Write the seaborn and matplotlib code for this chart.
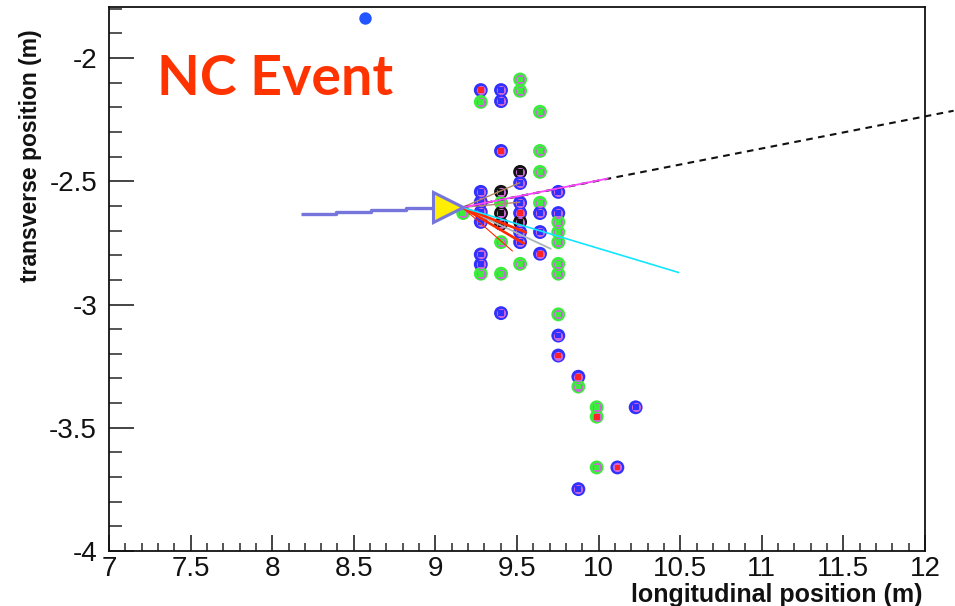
import matplotlib
matplotlib.use("Agg")
import matplotlib.pyplot as plt
from matplotlib.ticker import FixedLocator, FixedFormatter, MultipleLocator
from matplotlib.transforms import ScaledTranslation
import pandas as pd
import seaborn as sns

# ---------------------------------------------------------------------------
# Detector hits: longitudinal / transverse position (m), view ring colour
# and hit-class centre colour
# ---------------------------------------------------------------------------
hit_x = [
    9.278, 9.278, 9.278, 9.278, 9.278, 9.278, 9.278, 9.278, 9.278,
    9.402, 9.402, 9.402, 9.402, 9.402, 9.402, 9.402, 9.402, 9.402, 9.402,
    9.519, 9.519, 9.519, 9.519, 9.519, 9.519, 9.519, 9.519, 9.519, 9.519,
    9.641, 9.641, 9.641, 9.641, 9.641, 9.641, 9.641,
    9.753, 9.753, 9.753, 9.753, 9.753, 9.753, 9.753, 9.753, 9.753, 9.753,
    9.876, 9.876, 9.876,
    9.988, 9.988, 9.988,
    10.115, 10.227, 9.170,
]
hit_y = [
    -2.130, -2.178, -2.543, -2.584, -2.625, -2.665, -2.797, -2.837, -2.875,
    -2.130, -2.175, -2.377, -2.543, -2.587, -2.629, -2.672, -2.747, -2.875, -3.035,
    -2.087, -2.133, -2.462, -2.507, -2.587, -2.629, -2.665, -2.706, -2.747, -2.835,
    -2.218, -2.377, -2.462, -2.587, -2.629, -2.706, -2.794,
    -2.543, -2.629, -2.665, -2.706, -2.747, -2.835, -2.875, -3.040, -3.126, -3.207,
    -3.293, -3.333, -3.749,
    -3.417, -3.455, -3.661,
    -3.661, -3.417, -2.629,
]
hit_view = [
    "blue", "green", "blue", "blue", "blue", "blue", "blue", "blue", "green",
    "blue", "blue", "blue", "black", "green", "black", "black", "green", "green", "blue",
    "green", "green", "black", "blue", "blue", "blue", "black", "blue", "blue", "green",
    "green", "green", "green", "green", "blue", "blue", "blue",
    "blue", "blue", "green", "green", "green", "green", "green", "green", "blue", "blue",
    "blue", "green", "blue",
    "green", "green", "green",
    "blue", "blue", "green",
]
hit_core = [
    "red", "green", "blue", "blue", "blue", "blue", "blue", "blue", "green",
    "blue", "blue", "red", "black", "green", "black", "black", "green", "green", "blue",
    "green", "green", "black", "blue", "blue", "red", "black", "blue", "blue", "green",
    "green", "green", "green", "green", "blue", "blue", "red",
    "blue", "blue", "green", "green", "green", "green", "green", "green", "blue", "red",
    "red", "green", "blue",
    "green", "red", "green",
    "red", "blue", "green",
]

# Isolated hit far above the event
stray_x = [8.568]
stray_y = [-1.837]

# Interaction vertex and reconstructed tracks
vertex_x = [9.165]
vertex_y = [-2.606]

nu_x = [8.176, 8.390, 8.605, 8.819, 9.020]
nu_y = [-2.631, -2.625, -2.615, -2.608, -2.608]

muon_x = [9.165, 12.175]
muon_y = [-2.606, -2.214]
muon_reco_x = [9.165, 10.056]
muon_reco_y = [-2.606, -2.489]
pion_x = [9.165, 10.490]
pion_y = [-2.606, -2.870]
shower_end_x = [9.554, 9.541, 9.472]
shower_end_y = [-2.707, -2.752, -2.783]
gray_end_x = [9.707]
gray_end_y = [-2.774]
brown_end_x = [9.517, 9.517]
brown_end_y = [-2.506, -2.585]

x_ticks = [7, 7.5, 8, 8.5, 9, 9.5, 10, 10.5, 11, 11.5, 12]
x_tick_labels = ["7", "7.5", "8", "8.5", "9", "9.5", "10", "10.5", "11", "11.5", "12"]
y_ticks = [-4, -3.5, -3, -2.5, -2]
y_tick_labels = ["-4", "-3.5", "-3", "-2.5", "-2"]

# ---------------------------------------------------------------------------
sns.set_style("white")
plt.rcParams["font.family"] = ["Liberation Sans", "DejaVu Sans"]
plt.rcParams["axes.unicode_minus"] = False

ring_palette = {"blue": "#3030ff", "green": "#3cec3c", "black": "#121212"}
core_palette = {"blue": "#3030ff", "green": "#3cec3c", "black": "#121212",
                "red": "#ff2424"}
orchid = "#cc66d8"

fig = plt.figure(figsize=(9.55, 6.06), dpi=100)
ax = fig.add_axes([109 / 955, 55 / 606, 816 / 955, 544 / 606])

hits = pd.DataFrame({"x": hit_x, "y": hit_y, "view": hit_view, "core": hit_core})

# hit markers: coloured outer disc, orchid ring, small coloured centre
sns.scatterplot(data=hits, x="x", y="y", hue="view", palette=ring_palette,
                s=100, marker="o", linewidth=0, legend=False, ax=ax, zorder=3)
sns.scatterplot(data=hits, x="x", y="y", color=orchid,
                s=44, marker="o", linewidth=0, legend=False, ax=ax, zorder=4)
sns.scatterplot(data=hits, x="x", y="y", hue="core", palette=core_palette,
                s=17, marker="s", linewidth=0, legend=False, ax=ax, zorder=5)
sns.scatterplot(x=stray_x, y=stray_y, color="#2255ff", s=80, linewidth=0,
                legend=False, ax=ax, zorder=5)

# incoming neutrino
ax.plot(nu_x, nu_y, color="#7575dc", lw=2.4, drawstyle="steps-post",
        solid_capstyle="butt", zorder=6)

# outgoing tracks
vx, vy = vertex_x[0], vertex_y[0]
for ex, ey in zip(brown_end_x, brown_end_y):
    ax.plot([vx, ex], [vy, ey], color="#b08868", lw=1.0, zorder=6)
ax.plot([vx, gray_end_x[0]], [vy, gray_end_y[0]], color="#a6b6b6", lw=1.3, zorder=6)
for ex, ey, w in zip(shower_end_x, shower_end_y, [1.9, 1.9, 0.8]):
    ax.plot([vx, ex], [vy, ey], color="#ff2a00", lw=w, zorder=6)
ax.plot(pion_x, pion_y, color="#12e6ff", lw=1.2, zorder=6)
ax.plot(muon_x, muon_y, color="#111111", lw=1.5, linestyle=(0, (3.2, 2.6)),
        clip_on=False, zorder=6)
ax.plot(muon_reco_x, muon_reco_y, color="#ff45ff", lw=1.3, zorder=6.5)

# vertex marker
ms = 21
shift = ScaledTranslation(-ms / 2 / 72, 0, fig.dpi_scale_trans)
ax.plot(vertex_x, vertex_y, marker=">", ms=ms, mfc="#ffee00", mec="#7575dc",
        mew=2.2, linestyle="none", transform=ax.transData + shift, zorder=7)

# axes, ticks and labels
ax.set_xlim(7, 12)
ax.set_ylim(-4, -1.793)
ax.xaxis.set_major_locator(FixedLocator(x_ticks))
ax.xaxis.set_major_formatter(FixedFormatter(x_tick_labels))
ax.xaxis.set_minor_locator(MultipleLocator(0.1))
ax.yaxis.set_major_locator(FixedLocator(y_ticks))
ax.yaxis.set_major_formatter(FixedFormatter(y_tick_labels))
ax.yaxis.set_minor_locator(MultipleLocator(0.1))

ax.tick_params(axis="y", which="major", direction="in", length=18, width=1.1,
               left=True, right=False, labelsize=20, pad=8.6, colors="#111111")
ax.tick_params(axis="y", which="minor", direction="in", length=9, width=1.1,
               left=True, right=False)
ax.tick_params(axis="x", which="major", direction="in", length=11.5, width=1.1,
               bottom=True, top=False, labelsize=20, pad=3.6, colors="#111111")
ax.tick_params(axis="x", which="minor", direction="in", length=5.8, width=1.1,
               bottom=True, top=False)

for side in ax.spines.values():
    side.set_visible(True)
    side.set_color("#111111")
    side.set_linewidth(1.3)

ax.set_xlabel("longitudinal position (m)", fontsize=18, fontweight="bold",
              loc="right", color="#111111")
ax.xaxis.set_label_coords(0.997, -0.058)
ax.set_ylabel("transverse position (m)", fontsize=16.5, fontweight="bold",
              loc="top", color="#111111")
ax.yaxis.set_label_coords(-0.0956, 0.958)
ax.yaxis.label.set_va("center")

ax.text(0.0588, 0.838, "NC Event", transform=ax.transAxes, fontsize=40,
        fontweight="bold", family=["Lato", "DejaVu Sans"], color="#ff3300",
        ha="left", va="baseline", zorder=8)

fig.savefig("out.png", dpi=100)
